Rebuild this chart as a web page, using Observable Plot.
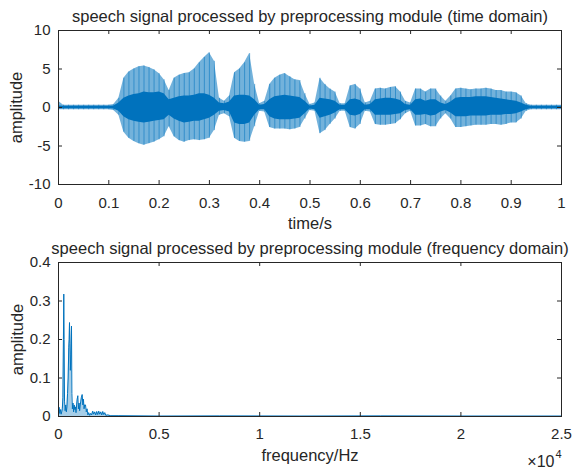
<!DOCTYPE html>
<html>
<head>
<meta charset="utf-8">
<script src="https://cdn.jsdelivr.net/npm/d3@7"></script>
<script src="https://cdn.jsdelivr.net/npm/@observablehq/plot@0.6"></script>
<style>
  html, body { margin: 0; padding: 0; background: #fff; }
  #chart { width: 572px; height: 471px; position: relative; }
  #chart svg { display: block; }
  #chart .overlay { position: absolute; left: 0; pointer-events: none; }
</style>
</head>
<body>
<div id="chart"></div>
<script>
// ---------- Data ----------
// Time-domain waveform envelope, one bin every 0.01 s (t = 0 ... 1)
const waveHi = [0.8,0.3,0.3,0.3,0.3,0.3,0.3,0.3,0.3,0.3,0.3,0.4,1.2,3.8,4.6,5.0,5.3,5.4,5.2,4.9,
  4.4,3.6,2.2,3.8,4.2,4.4,4.5,5.0,5.8,6.5,7.1,6.0,1.2,0.8,1.5,4.5,5.0,5.8,7.0,3.0,
  0.5,0.8,3.0,3.8,4.2,4.4,4.0,3.6,3.5,1.8,0.4,0.6,3.8,3.0,2.4,2.0,0.5,0.5,2.8,3.0,
  2.4,0.6,0.8,2.4,2.5,2.4,2.6,2.7,2.0,0.8,0.6,2.4,2.4,2.0,2.4,2.4,1.5,0.8,1.5,2.4,
  2.5,2.4,2.3,2.4,2.4,2.5,2.4,2.2,2.2,2.0,2.0,1.9,1.5,0.5,0.3,0.3,0.3,0.3,0.3,0.3,0.3];
const waveLo = [-0.3,-0.3,-0.3,-0.3,-0.3,-0.3,-0.3,-0.3,-0.3,-0.3,-0.3,-0.4,-1.0,-3.2,-4.0,-4.4,-4.7,-4.9,-4.7,-4.5,
  -4.2,-3.8,-2.5,-3.8,-4.3,-4.5,-4.3,-4.2,-4.3,-4.2,-4.0,-3.0,-1.0,-0.8,-1.2,-4.0,-4.4,-4.5,-4.4,-2.5,
  -0.5,-0.6,-2.6,-2.8,-2.8,-2.8,-2.9,-2.8,-2.6,-1.5,-0.4,-0.5,-3.4,-3.0,-2.2,-1.5,-0.5,-0.5,-2.6,-2.8,
  -2.2,-0.5,-0.6,-2.2,-2.3,-2.3,-2.2,-2.1,-1.6,-0.8,-0.5,-2.4,-2.4,-2.2,-2.5,-2.5,-1.5,-0.8,-1.5,-2.6,
  -2.6,-2.5,-2.4,-2.3,-2.3,-2.3,-2.2,-2.2,-2.3,-2.2,-2.0,-2.0,-1.5,-0.5,-0.3,-0.3,-0.3,-0.3,-0.3,-0.3,-0.3];
const coreHi = [0.2,0.15,0.15,0.15,0.15,0.15,0.15,0.15,0.15,0.15,0.15,0.2,0.6,1.2,1.5,1.7,1.8,2.0,1.9,1.9,
  2.0,1.8,1.0,1.2,1.4,1.5,1.5,1.6,1.8,1.8,1.6,1.2,0.6,0.5,0.7,1.5,1.6,1.6,1.5,1.0,
  0.3,0.4,1.0,1.4,1.5,1.6,1.5,1.4,1.3,0.8,0.2,0.3,1.2,1.1,1.0,0.8,0.3,0.3,1.0,1.1,
  0.9,0.3,0.4,1.0,1.1,1.2,1.2,1.1,0.9,0.4,0.3,1.0,1.1,0.8,1.0,1.0,0.6,0.4,0.7,1.2,
  1.3,1.3,1.3,1.4,1.4,1.4,1.3,1.2,1.1,1.0,0.9,0.8,0.6,0.3,0.15,0.15,0.15,0.15,0.15,0.15,0.15];
const coreLo = [-0.2,-0.15,-0.15,-0.15,-0.15,-0.15,-0.15,-0.15,-0.15,-0.15,-0.15,-0.2,-0.5,-1.2,-1.6,-1.8,-1.9,-2.0,-1.9,-1.8,
  -1.7,-1.6,-1.0,-1.5,-1.8,-2.0,-1.9,-1.8,-1.8,-1.6,-1.4,-1.0,-0.5,-0.4,-0.6,-2.0,-2.2,-2.2,-2.0,-1.0,
  -0.3,-0.3,-1.2,-1.5,-1.6,-1.6,-1.6,-1.5,-1.4,-0.8,-0.2,-0.3,-1.4,-1.2,-1.0,-0.7,-0.3,-0.3,-1.0,-1.1,
  -0.9,-0.3,-0.3,-1.0,-1.0,-1.0,-1.0,-0.9,-0.8,-0.4,-0.3,-1.0,-1.0,-0.9,-1.1,-1.0,-0.6,-0.4,-0.7,-1.2,
  -1.2,-1.2,-1.1,-1.1,-1.1,-1.1,-1.0,-1.0,-1.0,-0.9,-0.9,-0.8,-0.6,-0.3,-0.15,-0.15,-0.15,-0.15,-0.15,-0.15,-0.15];

// Frequency-domain magnitude spectrum
const specF = [0,30,65,100,130,160,190,220,245,263,280,300,330,360,390,420,450,480,510,530,
  547,565,590,615,646,665,690,720,750,780,810,840,870,900,930,960,990,1020,1050,1080,
  1110,1140,1178,1210,1240,1270,1300,1342,1380,1420,1460,1500,1550,1600,1650,1700,1750,1800,1850,1900,
  1950,2000,2050,2100,2150,2200,2250,2300,2350,2450,2600,3000,5000,8000,12000,16000,20000,25000];
const specA = [0.002,0.024,0.008,0.018,0.006,0.012,0.02,0.05,0.2,0.318,0.2,0.04,0.015,0.03,0.012,0.025,0.06,0.1,0.18,0.2,
  0.244,0.19,0.12,0.16,0.235,0.06,0.02,0.035,0.012,0.03,0.018,0.025,0.01,0.03,0.045,0.054,0.02,0.035,0.015,0.03,
  0.04,0.05,0.057,0.03,0.045,0.02,0.03,0.03,0.012,0.02,0.004,0.01,0.003,0.008,0.004,0.014,0.006,0.012,0.004,0.013,
  0.005,0.014,0.006,0.012,0.004,0.013,0.005,0.01,0.003,0.004,0.002,0.002,0.001,0.0015,0.001,0.0015,0.001,0.001];

// Axes: domains, ticks and texts
const timeDomain = [0, 1], ampDomain = [-10, 10];
const freqDomain = [0, 25000], magDomain = [0, 0.4];
const timeTicks = [0,0.1,0.2,0.3,0.4,0.5,0.6,0.7,0.8,0.9,1];
const ampTicks = [-10,-5,0,5,10];
const freqTicks = [0,5000,10000,15000,20000,25000];
const magTicks = [0,0.1,0.2,0.3,0.4];
const titleTop = "speech signal processed by preprocessing module (time domain)";
const titleBottom = "speech signal processed by preprocessing module (frequency domain)";
const xLabelTop = "time/s";
const xLabelBottom = "frequency/Hz";
const yLabel = "amplitude";
const expBase = "\u00d710";
const expPow = "4";

// ---------- Tables ----------
const wave = waveHi.map((h, i) => ({t: i / 100, hi: h, lo: waveLo[i], chi: coreHi[i], clo: coreLo[i]}));
const spec = specF.map((f, i) => ({f, a: specA[i]}));

const BLUE = "#0072BD";
const INK = "#262626";
const FONT = "'Liberation Sans', Arial, Helvetica, sans-serif";
const W = 572, ML = 58, MR = 11, FW = W - ML - MR, FH = 154;

// Box + inward ticks, drawn in a transparent overlay plot with the same scales
function boxOverlay(height, mt, mb, xd, yd, xt, yt, top) {
  const svg = Plot.plot({
    width: W, height, marginTop: mt, marginBottom: mb, marginLeft: ML, marginRight: MR,
    style: {background: "transparent", overflow: "visible"},
    x: {domain: xd, axis: null},
    y: {domain: yd, axis: null},
    marks: [
      Plot.frame({stroke: INK}),
      Plot.tickX(xt, {x: d => d, stroke: INK, insetTop: FH - 4}),
      Plot.tickX(xt, {x: d => d, stroke: INK, insetBottom: FH - 4}),
      Plot.tickY(yt, {y: d => d, stroke: INK, insetRight: FW - 4}),
      Plot.tickY(yt, {y: d => d, stroke: INK, insetLeft: FW - 4})
    ]
  });
  svg.classList.add("overlay");
  svg.style.top = top + "px";
  return svg;
}

const topPlot = Plot.plot({
  width: W, height: 235,
  marginTop: 30, marginBottom: 51, marginLeft: ML, marginRight: MR,
  style: {fontFamily: FONT, fontSize: "15px", color: INK, background: "#fff", overflow: "visible"},
  x: {domain: timeDomain, ticks: timeTicks, tickSize: 0, tickPadding: 13, tickFormat: d => String(d), label: null},
  y: {domain: ampDomain, ticks: ampTicks, tickSize: 0, tickPadding: 8, tickFormat: d => String(d), label: null},
  marks: [
    Plot.areaY(wave, {x: "t", y1: "lo", y2: "hi", fill: BLUE, fillOpacity: 0.55}),
    Plot.ruleX(wave, {x: "t", y1: "lo", y2: "hi", stroke: BLUE, strokeOpacity: 0.55, strokeWidth: 1}),
    Plot.areaY(wave, {x: "t", y1: "clo", y2: "chi", fill: BLUE}),
    Plot.text([titleTop], {frameAnchor: "top", dy: -9, lineAnchor: "bottom", fontSize: 16.5}),
    Plot.text([xLabelTop], {frameAnchor: "bottom", dy: 44, lineAnchor: "bottom", fontSize: 16.5}),
    Plot.text([yLabel], {frameAnchor: "left", dx: -48, rotate: -90, textAnchor: "middle", lineAnchor: "top", fontSize: 16.5})
  ]
});

const bottomPlot = Plot.plot({
  width: W, height: 236,
  marginTop: 27, marginBottom: 55, marginLeft: ML, marginRight: MR,
  style: {fontFamily: FONT, fontSize: "15px", color: INK, background: "#fff", overflow: "visible"},
  x: {domain: freqDomain, ticks: freqTicks, tickSize: 0, tickPadding: 12, tickFormat: d => String(d / 10000), label: null},
  y: {domain: magDomain, ticks: magTicks, tickSize: 0, tickPadding: 8, tickFormat: d => String(d), label: null},
  marks: [
    Plot.areaY(spec, {x: "f", y: "a", fill: BLUE, fillOpacity: 0.35}),
    Plot.lineY(spec, {x: "f", y: "a", stroke: BLUE, strokeWidth: 1}),
    Plot.text([titleBottom], {frameAnchor: "top", dy: -8.5, lineAnchor: "bottom", fontSize: 16.5}),
    Plot.text([xLabelBottom], {frameAnchor: "bottom", dy: 44, lineAnchor: "bottom", fontSize: 16.5}),
    Plot.text([expBase], {frameAnchor: "bottom-right", dx: -7, dy: 50, lineAnchor: "bottom", textAnchor: "end", fontSize: 16}),
    Plot.text([expPow], {frameAnchor: "bottom-right", dx: -6, dy: 41, lineAnchor: "bottom", textAnchor: "start", fontSize: 11}),
    Plot.text([yLabel], {frameAnchor: "left", dx: -47, rotate: -90, textAnchor: "middle", lineAnchor: "top", fontSize: 16.5})
  ]
});

const root = document.getElementById("chart");
root.appendChild(topPlot);
root.appendChild(bottomPlot);
root.appendChild(boxOverlay(235, 30, 51, timeDomain, ampDomain, timeTicks, ampTicks, 0));
root.appendChild(boxOverlay(236, 27, 55, freqDomain, magDomain, freqTicks, magTicks, 235));

// Mirror SVG rotate transforms into CSS transforms so rotated labels render everywhere
for (const svg of [topPlot, bottomPlot]) {
  svg.querySelectorAll("text[transform]").forEach(el => {
    const tr = el.getAttribute("transform");
    const m = /translate\(([-\d.e]+),\s*([-\d.e]+)\)\s*rotate\(([-\d.e]+)\)/.exec(tr);
    if (m) el.style.transform = `translate(${m[1]}px,${m[2]}px) rotate(${m[3]}deg)`;
  });
}
</script>
</body>
</html>
